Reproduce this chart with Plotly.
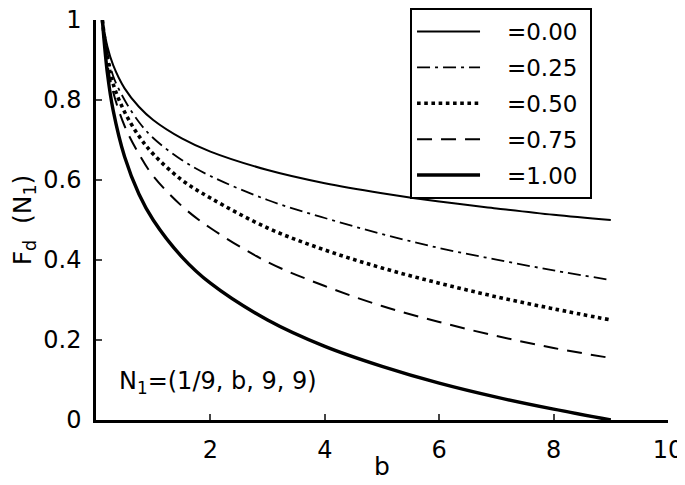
import plotly.graph_objects as go

# b grid and F_d values
b = [1/9, 0.2, 0.3, 0.5, 0.75, 1, 1.5, 2, 3, 4, 5, 6, 7, 8, 9]
f_000 = [1.0, 0.933, 0.887, 0.829, 0.783, 0.75, 0.704, 0.671, 0.625, 0.592, 0.567, 0.546, 0.529, 0.513, 0.5]
f_025 = [1.0, 0.92, 0.86, 0.80, 0.745, 0.705, 0.65, 0.61, 0.55, 0.505, 0.465, 0.43, 0.401, 0.374, 0.35]
f_050 = [1.0, 0.905, 0.84, 0.77, 0.71, 0.665, 0.60, 0.555, 0.48, 0.425, 0.38, 0.342, 0.308, 0.278, 0.25]
f_075 = [1.0, 0.89, 0.82, 0.735, 0.665, 0.61, 0.535, 0.48, 0.395, 0.335, 0.285, 0.245, 0.21, 0.18, 0.155]
f_100 = [1.0, 0.866, 0.774, 0.658, 0.565, 0.5, 0.408, 0.342, 0.25, 0.184, 0.134, 0.092, 0.057, 0.027, 0.0]

labels = ["=0.00", "=0.25", "=0.50", "=0.75", "=1.00"]
series = [f_000, f_025, f_050, f_075, f_100]
styles = [
    dict(width=2.0, dash="solid"),
    dict(width=1.8, dash="13px,5px,3px,5px"),
    dict(width=3.6, dash="3.6px,3.6px"),
    dict(width=2.0, dash="15px,9px"),
    dict(width=3.4, dash="solid"),
]

FONT = "DejaVu Sans, Liberation Sans, Arial, sans-serif"
PAD = "\u00a0" * 3  # gap between legend sample and label

fig = go.Figure()
for i, (lab, y, st) in enumerate(zip(labels, series, styles)):
    fig.add_trace(go.Scatter(
        x=b, y=y, mode="lines", name=PAD + lab + "\u00a0", legendgroup=str(i),
        line=dict(color="black", shape="spline", smoothing=1.0, **st),
    ))

fig.add_annotation(
    x=0.36, y=0.095, xref="x", yref="y", xanchor="left", yanchor="middle",
    text="N<sub>1</sub>=(1/9, b, 9, 9)", showarrow=False,
    font=dict(size=24, color="black", family=FONT),
)
# x axis title sits a little into the tick label row
fig.add_annotation(
    x=0.5, y=-0.115, xref="paper", yref="paper", xanchor="center", yanchor="middle",
    text="b", showarrow=False, font=dict(size=25, color="black", family=FONT),
)

# page body adds an 8px offset, so the figure is 8px smaller on each axis
fig.update_layout(
    width=677, height=477,
    margin=dict(l=88, r=17, t=12, b=65, autoexpand=False),
    paper_bgcolor="white", plot_bgcolor="white",
    font=dict(family=FONT, size=24, color="black"),
    legend=dict(
        x=0.549, y=1.03, xanchor="left", yanchor="top",
        bordercolor="black", borderwidth=2, bgcolor="white",
        font=dict(size=23), itemwidth=63, tracegroupgap=3,
    ),
)
fig.update_xaxes(
    range=[0, 10], tickvals=[2, 4, 6, 8, 10], ticks="inside", ticklen=6,
    tickwidth=2, showline=True, linecolor="black", linewidth=2.5,
    showgrid=False, zeroline=False, ticklabelstandoff=6,
    ticklabeloverflow="allow",
)
fig.update_yaxes(
    range=[0, 1], tickvals=[0, 0.2, 0.4, 0.6, 0.8, 1],
    ticktext=["0", "0.2", "0.4", "0.6", "0.8", "1"],
    ticks="inside", ticklen=6, tickwidth=2,
    showline=True, linecolor="black", linewidth=2.5,
    showgrid=False, zeroline=False, ticklabelstandoff=7,
    ticklabeloverflow="allow",
    title=dict(text="F<sub>d</sub>  (N<sub>1</sub>)", standoff=8, font=dict(size=25)),
)

fig.write_html("out.html")
